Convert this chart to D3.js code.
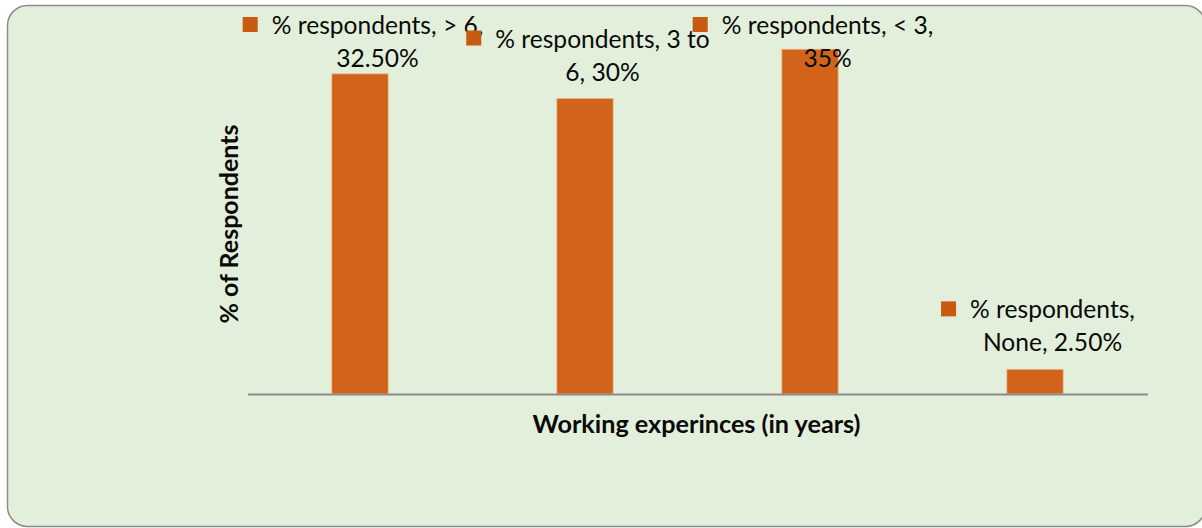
<!DOCTYPE html>
<html>
<head>
<meta charset="utf-8">
<script src="https://cdn.jsdelivr.net/npm/d3@7"></script>
<style>
  html, body { margin: 0; padding: 0; background: #ffffff; }
  svg { display: block; }
  text { font-family: Lato, "Open Sans", sans-serif; fill: #0a0a0a; }
</style>
</head>
<body>
<svg id="chart" width="1202" height="528"></svg>
<script>
// Working experience of respondents
const categories = ["> 6", "3 to 6", "< 3", "None"];
const values = [32.5, 30, 35, 2.5];
const seriesName = "% respondents";
const xTitle = "Working experinces (in years)";
const yTitle = "% of Respondents";

const W = 1202, H = 528;
const margin = { left: 247.5, right: 54.5, top: 0, bottom: 134 };

const svg = d3.select("#chart");

// rounded chart frame
svg.append("rect")
  .attr("x", 7.5).attr("y", 5.5)
  .attr("width", 1198).attr("height", 521)
  .attr("rx", 20).attr("ry", 20)
  .attr("fill", "#e2efda")
  .attr("stroke", "#8c8c8c")
  .attr("stroke-width", 1.5);

const x = d3.scaleBand()
  .domain(categories)
  .range([margin.left, W - margin.right])
  .paddingInner(0.75)
  .paddingOuter(0.375);

const y = d3.scaleLinear()
  .domain([0, 40])
  .range([H - margin.bottom, margin.top]);

const data = categories.map((c, i) => ({ cat: c, v: values[i] }));
const fmt = v => (Number.isInteger(v) ? String(v) : v.toFixed(2)) + "%";

// bars
svg.append("g").selectAll("rect")
  .data(data)
  .join("rect")
  .attr("x", d => x(d.cat))
  .attr("y", d => y(d.v))
  .attr("width", x.bandwidth())
  .attr("height", d => y(0) - y(d.v))
  .attr("fill", "#d1631b")
  .attr("stroke", "#eab48a")
  .attr("stroke-width", 0.8);

// category axis (line only)
const xAxis = svg.append("g")
  .attr("transform", `translate(0,${y(0)})`)
  .call(d3.axisBottom(x).tickSize(0).tickSizeOuter(0).tickFormat(""));
xAxis.select(".domain").attr("stroke", "#8c8c8c").attr("stroke-width", 2.2);
xAxis.selectAll(".tick").remove();

// axis titles
svg.append("text")
  .attr("x", 696.5).attr("y", 433)
  .attr("text-anchor", "middle")
  .style("font-size", "25.2px").style("font-weight", "bold")
  .text(xTitle);

svg.append("text")
  .attr("transform", "translate(238,224) rotate(-90)")
  .attr("text-anchor", "middle")
  .style("font-size", "25px").style("font-weight", "bold")
  .text(yTitle);

// data labels with legend key, wrapped onto two lines
const labelFont = 24.6;
const maxLineWidth = 226;
const measure = svg.append("text").style("font-size", labelFont + "px");
const widthOf = s => { measure.text(s); return measure.node().getComputedTextLength(); };

function wrap(str) {
  const words = str.split(" ");
  const lines = [];
  let cur = "";
  words.forEach(w => {
    const t = cur ? cur + " " + w : w;
    if (cur && widthOf(t) > maxLineWidth) { lines.push(cur); cur = w; }
    else cur = t;
  });
  if (cur) lines.push(cur);
  return lines;
}

const labels = svg.append("g");
data.forEach(d => {
  const lines = wrap(`${seriesName}, ${d.cat}, ${fmt(d.v)}`);
  const textW = d3.max(lines, widthOf);
  const cx = x(d.cat) + x.bandwidth() / 2 + 3;
  const keyLeft = cx - (29 + textW) / 2;
  const textCenter = keyLeft + 29 + textW / 2;
  const lastBase = Math.max(y(d.v) - 18, 67);
  const firstBase = lastBase - 33 * (lines.length - 1);

  const g = labels.append("g");
  g.append("rect")
    .attr("x", keyLeft).attr("y", firstBase - 17)
    .attr("width", 15).attr("height", 15)
    .attr("fill", "#c85a12");
  lines.forEach((ln, j) => {
    g.append("text")
      .attr("x", textCenter)
      .attr("y", firstBase + j * 33)
      .attr("text-anchor", "middle")
      .style("font-size", labelFont + "px")
      .text(ln);
  });
});
measure.remove();
</script>
</body>
</html>
